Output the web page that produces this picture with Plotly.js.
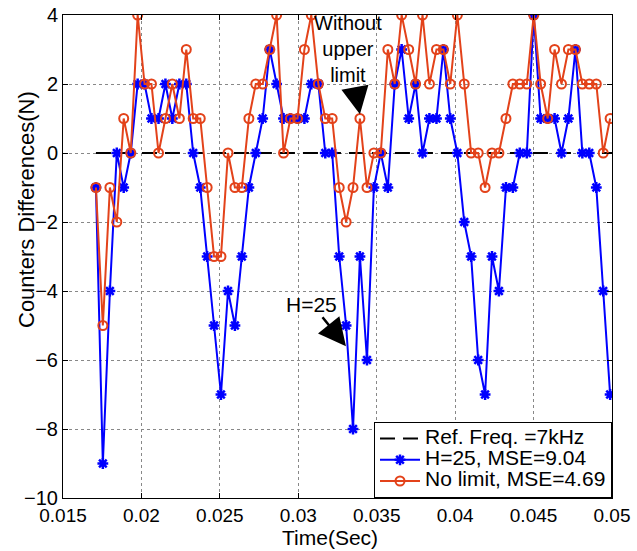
<!DOCTYPE html>
<html><head><meta charset="utf-8">
<script src="https://cdn.plot.ly/plotly-3.0.1.min.js"></script>
<style>html,body{margin:0;padding:0;background:#fff}#c{width:637px;height:551px}</style>
</head><body><div id="c"></div>
<script>
const timeSec = [0.01710,0.01754,0.01799,0.01843,0.01887,0.01932,0.01976,0.02020,0.02064,0.02109,
0.02153,0.02197,0.02242,0.02286,0.02330,0.02375,0.02419,0.02463,0.02507,0.02552,
0.02596,0.02640,0.02685,0.02729,0.02773,0.02818,0.02862,0.02906,0.02950,0.02995,
0.03039,0.03083,0.03128,0.03172,0.03216,0.03261,0.03305,0.03349,0.03393,0.03438,
0.03482,0.03526,0.03571,0.03615,0.03659,0.03704,0.03748,0.03792,0.03836,0.03881,
0.03925,0.03969,0.04014,0.04058,0.04102,0.04147,0.04191,0.04235,0.04279,0.04324,
0.04368,0.04412,0.04457,0.04501,0.04545,0.04590,0.04634,0.04678,0.04722,0.04767,
0.04811,0.04855,0.04900,0.04944,0.04988];
const h25 = [-1,-9,-4,0,-1,0,2,2,1,1,
2,1,2,2,0,-1,-3,-5,-7,-4,
-5,-3,-1,0,1,3,2,1,1,1,
1,2,2,0,0,-3,-5,-8,-3,-6,
-1,0,-1,2,3,1,2,0,1,1,
3,1,0,-2,-3,-6,-7,-3,-4,-1,
-1,0,0,4,1,1,1,0,1,3,
0,0,-1,-4,-7];
const noLimit = [-1,-5,-1,-2,1,0,4,2,2,0,
1,2,1,3,1,1,-1,-3,-3,0,
-1,-1,1,2,2,3,4,0,1,1,
3,4,2,1,1,-1,-2,-1,1,-1,
0,0,3,2,4,3,2,4,2,3,
3,2,4,2,0,0,-1,0,0,1,
2,2,2,4,2,1,3,2,3,3,
2,2,2,0,1];
const refX = [0.0171, 0.0500];
const refY = [0, 0];
const seriesNames = ['Ref. Freq. =7kHz', 'H=25, MSE=9.04', 'No limit, MSE=4.69'];
const xTickVals = [0.015,0.02,0.025,0.03,0.035,0.04,0.045,0.05];
const xTickText = ['0.015','0.02','0.025','0.03','0.035','0.04','0.045','0.05'];
const yTickVals = [-10,-8,-6,-4,-2,0,2,4];

const F = 'Arial, "Liberation Sans", sans-serif';
const big = s => '<span style="font-size:21px">' + s + '</span>';
const traces = [
 {x: refX, y: refY, mode:'lines', name: big(seriesNames[0]),
  line:{color:'#000', width:2, dash:'15px,8px'}},
 {x: timeSec, y: h25, mode:'lines+markers', name: big(seriesNames[1]),
  line:{color:'#0000ff', width:2},
  marker:{symbol:'asterisk-open', size:9, color:'#0000ff', line:{color:'#0000ff', width:2.5}}},
 {x: timeSec, y: noLimit, mode:'lines+markers', name: big(seriesNames[2]),
  line:{color:'#e3421a', width:2},
  marker:{symbol:'circle-open', size:9, color:'#e3421a', line:{color:'#e3421a', width:2}}}
];
const axisCommon = {
  showline:true, linecolor:'#000', linewidth:1, mirror:'ticks',
  ticks:'inside', ticklen:5, tickcolor:'#000',
  showgrid:true, gridcolor:'#888', griddash:'dot', gridwidth:1,
  zeroline:false, tickfont:{family:F, size:20, color:'#000'}
};
const layout = {
  width:637, height:551,
  margin:{l:63, r:25, t:15, b:53},
  paper_bgcolor:'#fff', plot_bgcolor:'#fff',
  showlegend:true,
  font:{family:F, color:'#000'},
  xaxis: Object.assign({}, axisCommon, {
    range:[0.015, 0.05], tickmode:'array', tickvals:xTickVals, ticktext:xTickText,
    tickfont:{family:F, size:19, color:'#000'}
  }),
  yaxis: Object.assign({}, axisCommon, {
    range:[-10, 4], tickmode:'array', tickvals:yTickVals
  }),
  legend:{x:1, xanchor:'right', y:0, yanchor:'bottom', bgcolor:'#fff',
    bordercolor:'#000', borderwidth:1, font:{family:F, size:14, color:'#000'},
    tracegroupgap:0, itemwidth:40},
  annotations:[
    {xref:'paper', yref:'paper', x:(330-63)/549, y:(498-537)/483, xanchor:'center', yanchor:'middle',
     text:'Time(Sec)', showarrow:false, font:{family:F, size:21, color:'#000'}, borderpad:0},
    {xref:'paper', yref:'paper', x:(26-63)/549, y:(498-210)/483, xanchor:'center', yanchor:'middle',
     text:'Counters Differences(N)', textangle:-90, showarrow:false, font:{family:F, size:22, color:'#000'}},
    {x:0.03393, y:1.12, xref:'x', yref:'y', text:'Without<br>upper<br>limit',
     showarrow:true, arrowhead:2, arrowsize:2.2, arrowwidth:2.5, arrowcolor:'#000',
     ax:-12, ay:-65, font:{family:F, size:20, color:'#000'}, standoff:0},
    {x:0.03304, y:-5.6, xref:'x', yref:'y', text:'H=25',
     showarrow:true, arrowhead:2, arrowsize:2.2, arrowwidth:2.5, arrowcolor:'#000',
     ax:-34, ay:-42, font:{family:F, size:21, color:'#000'}, standoff:0}
  ]
};
Plotly.newPlot('c', traces, layout, {displayModeBar:false, staticPlot:true});
</script></body></html>
